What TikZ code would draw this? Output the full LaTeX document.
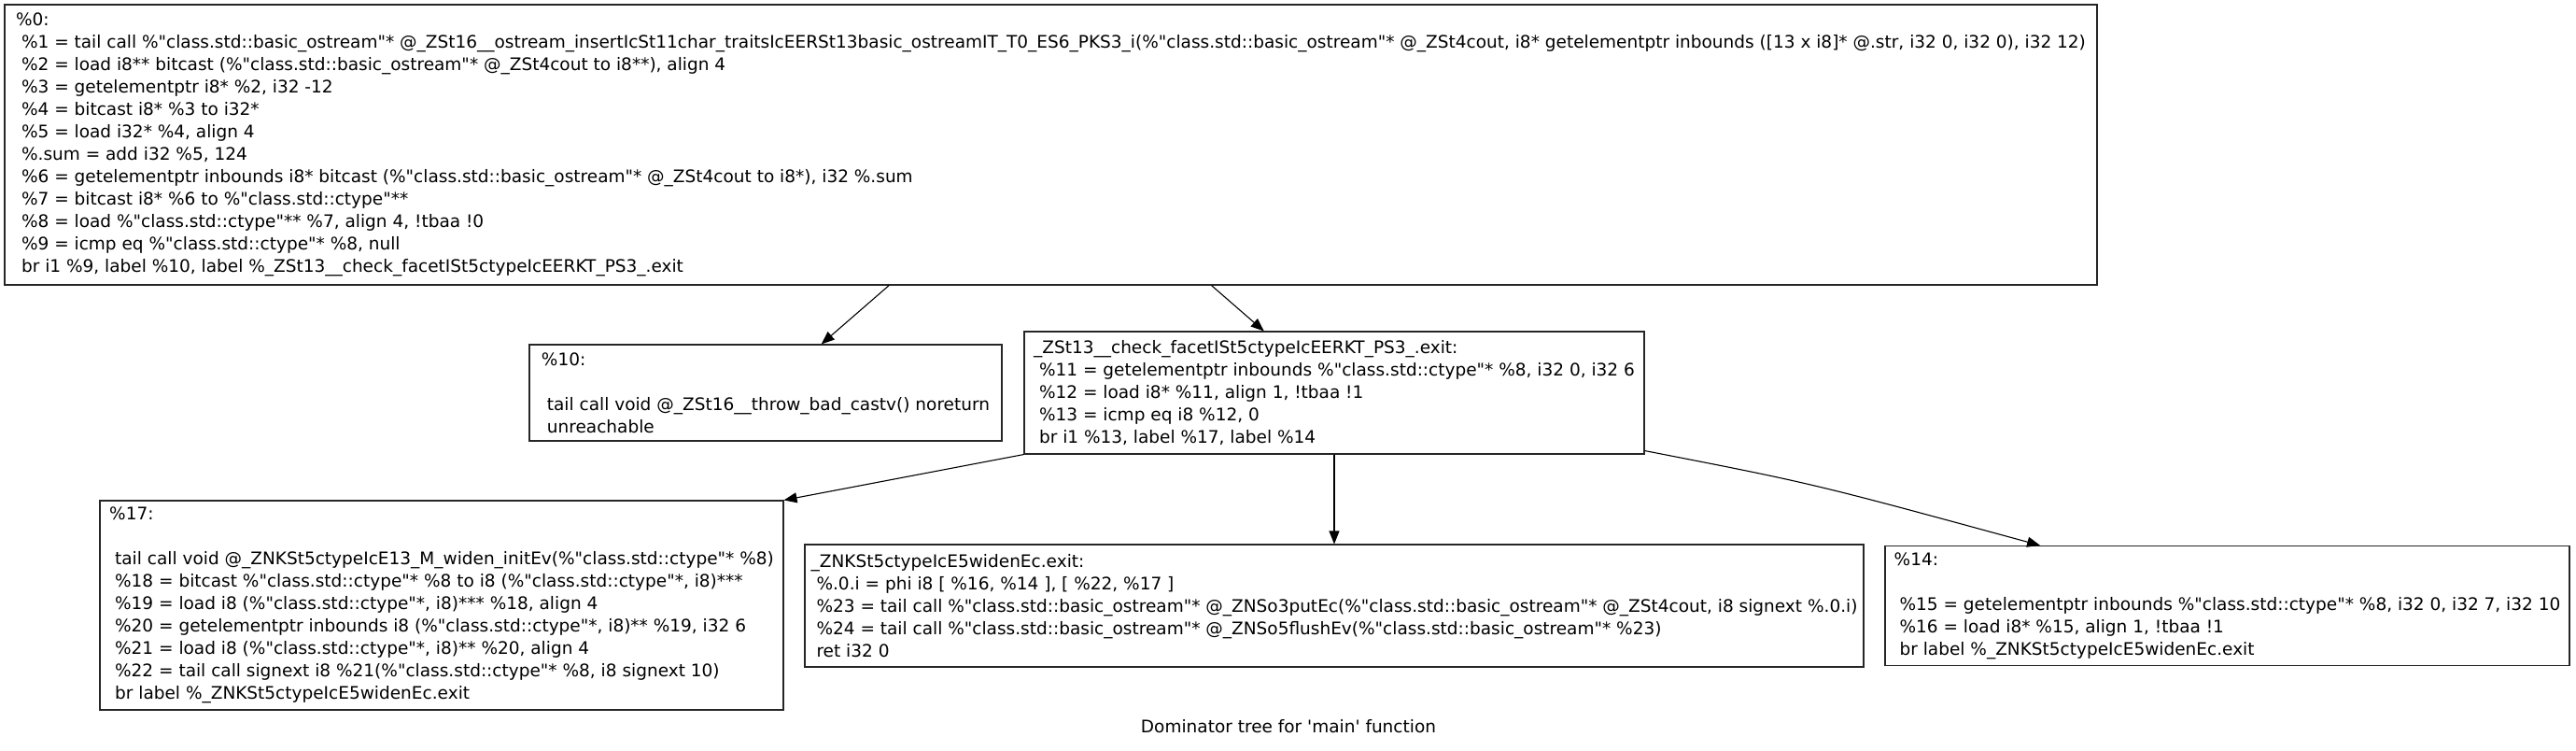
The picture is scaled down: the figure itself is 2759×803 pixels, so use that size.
\documentclass[tikz,border=0pt]{standalone}
\usepackage{fontspec}
\newfontfamily\dv{DejaVu Sans}
\usetikzlibrary{arrows.meta,calc}
\newcommand{\ls}{\hspace*{0.32em}}
\newcommand{\bl}{\mbox{}}
\begin{document}
\begin{tikzpicture}[x=1pt,y=1pt,
  box/.style={draw=black!85, line width=1.1pt, rectangle, align=left, inner sep=0pt,
    font=\dv\fontsize{18.5}{24}\selectfont},
  edge/.style={line width=1.1pt, -{Triangle[length=14pt,width=11pt]}},
  captext/.style={font=\dv\fontsize{18.5}{24}\selectfont, inner sep=0pt}]
\useasboundingbox (0,0) rectangle (2759,-803);

\node[box, minimum width=2241, minimum height=300] (n0) at (1125.5,-155) {%
\%0:\\
\ls\%1 = tail call \%"class.std::basic\_ostream"* @\_ZSt16\_\_ostream\_insertIcSt11char\_traitsIcEERSt13basic\_ostreamIT\_T0\_ES6\_PKS3\_i(\%"class.std::basic\_ostream"* @\_ZSt4cout, i8* getelementptr inbounds ([13 x i8]* @.str, i32 0, i32 0), i32 12)\\
\ls\%2 = load i8** bitcast (\%"class.std::basic\_ostream"* @\_ZSt4cout to i8**), align 4\\
\ls\%3 = getelementptr i8* \%2, i32 -12\\
\ls\%4 = bitcast i8* \%3 to i32*\\
\ls\%5 = load i32* \%4, align 4\\
\ls\%.sum = add i32 \%5, 124\\
\ls\%6 = getelementptr inbounds i8* bitcast (\%"class.std::basic\_ostream"* @\_ZSt4cout to i8*), i32 \%.sum\\
\ls\%7 = bitcast i8* \%6 to \%"class.std::ctype"**\\
\ls\%8 = load \%"class.std::ctype"** \%7, align 4, !tbaa !0\\
\ls\%9 = icmp eq \%"class.std::ctype"* \%8, null\\
\ls br i1 \%9, label \%10, label \%\_ZSt13\_\_check\_facetISt5ctypeIcEERKT\_PS3\_.exit};

\node[box, minimum width=506, minimum height=103] (n10) at (820,-420.5) {%
\%10:\\
\bl\\
\ls tail call void @\_ZSt16\_\_throw\_bad\_castv() noreturn\\
\ls unreachable};

\node[box, minimum width=664, minimum height=131] (nx) at (1429,-420.5) {%
\_ZSt13\_\_check\_facetISt5ctypeIcEERKT\_PS3\_.exit:\\
\ls\%11 = getelementptr inbounds \%"class.std::ctype"* \%8, i32 0, i32 6\\
\ls\%12 = load i8* \%11, align 1, !tbaa !1\\
\ls\%13 = icmp eq i8 \%12, 0\\
\ls br i1 \%13, label \%17, label \%14};

\node[box, minimum width=732, minimum height=224] (n17) at (473,-648) {%
\%17:\\
\bl\\
\ls tail call void @\_ZNKSt5ctypeIcE13\_M\_widen\_initEv(\%"class.std::ctype"* \%8)\\
\ls\%18 = bitcast \%"class.std::ctype"* \%8 to i8 (\%"class.std::ctype"*, i8)***\\
\ls\%19 = load i8 (\%"class.std::ctype"*, i8)*** \%18, align 4\\
\ls\%20 = getelementptr inbounds i8 (\%"class.std::ctype"*, i8)** \%19, i32 6\\
\ls\%21 = load i8 (\%"class.std::ctype"*, i8)** \%20, align 4\\
\ls\%22 = tail call signext i8 \%21(\%"class.std::ctype"* \%8, i8 signext 10)\\
\ls br label \%\_ZNKSt5ctypeIcE5widenEc.exit};

\node[box, minimum width=1134, minimum height=131] (nw) at (1429,-648.5) {%
\_ZNKSt5ctypeIcE5widenEc.exit:\\
\ls\%.0.i = phi i8 [ \%16, \%14 ], [ \%22, \%17 ]\\
\ls\%23 = tail call \%"class.std::basic\_ostream"* @\_ZNSo3putEc(\%"class.std::basic\_ostream"* @\_ZSt4cout, i8 signext \%.0.i)\\
\ls\%24 = tail call \%"class.std::basic\_ostream"* @\_ZNSo5flushEv(\%"class.std::basic\_ostream"* \%23)\\
\ls ret i32 0};

\node[box, minimum width=733, minimum height=128] (n14) at (2385.5,-648.5) {%
\%14:\\
\bl\\
\ls\%15 = getelementptr inbounds \%"class.std::ctype"* \%8, i32 0, i32 7, i32 10\\
\ls\%16 = load i8* \%15, align 1, !tbaa !1\\
\ls br label \%\_ZNKSt5ctypeIcE5widenEc.exit};

\node[captext] (title) at (1380,-778) {Dominator tree for \textquotesingle main\textquotesingle\ function};

\draw[edge] (n0) -- (n10);
\draw[edge] (n0) -- (nx);
\draw[edge] (nx.south west) -- (n17.north east);
\draw[edge] (nx) -- (nw);
\draw[edge] ($(nx.south east)+(0,4)$) .. controls +(180,-35) .. ($(n14.north west)!0.227!(n14.north east)$);
\end{tikzpicture}
\end{document}
